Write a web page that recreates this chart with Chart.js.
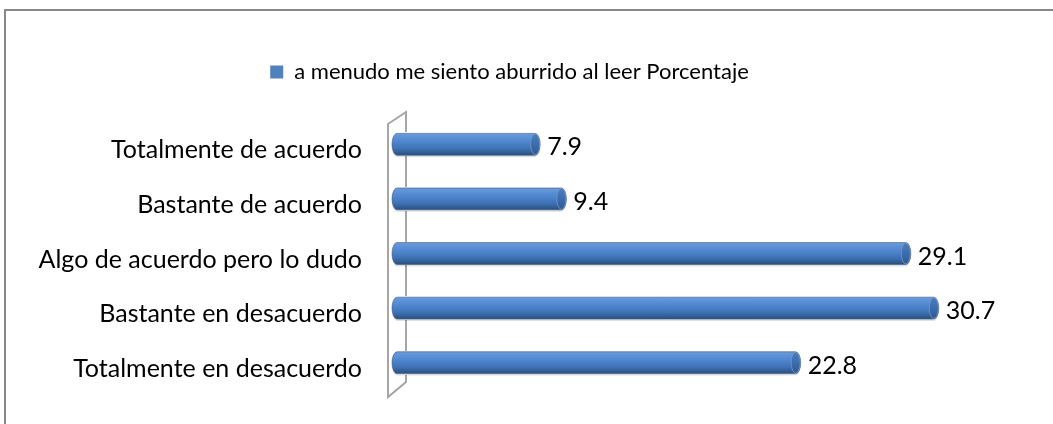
<!DOCTYPE html>
<html><head><meta charset="utf-8">
<script src="https://cdn.jsdelivr.net/npm/chart.js@4"></script>
<style>html,body{margin:0;padding:0;background:#fff;overflow:hidden}#wrap{width:1053px;height:424px;position:relative}</style>
</head><body><div id="wrap"><canvas id="c" width="1053" height="424"></canvas></div>
<script>
const categories = ['Totalmente de acuerdo', 'Bastante de acuerdo', 'Algo de acuerdo pero lo dudo', 'Bastante en desacuerdo', 'Totalmente en desacuerdo'];
const seriesName = 'a menudo me siento aburrido al leer Porcentaje';
const values = [7.9, 9.4, 29.1, 30.7, 22.8];
const valueLabels = ['7.9', '9.4', '29.1', '30.7', '22.8'];

const FONT = 'Lato';
const FSIZE = 25;
const LEGEND_FSIZE = 22;

const frame = {
  id: 'frame',
  beforeInit(chart) {
    const lg = chart.legend;
    if (lg) {
      const orig = lg.fit.bind(lg);
      lg.fit = function () { orig(); this.height += 24; };
    }
  },
  beforeDraw(chart) {
    const ctx = chart.ctx;
    ctx.save();
    ctx.strokeStyle = '#878787';
    ctx.lineWidth = 2;
    ctx.beginPath();
    ctx.moveTo(5, 424); ctx.lineTo(5, 10); ctx.lineTo(1053, 10);
    ctx.stroke();
    // 3D wall
    const a = chart.chartArea;
    const x0 = chart.scales.x.getPixelForValue(0);
    ctx.strokeStyle = '#a6a6a6';
    ctx.lineWidth = 2;
    ctx.beginPath();
    ctx.moveTo(x0 - 9, a.top + 7);
    ctx.lineTo(x0 + 9, a.top - 5);
    ctx.lineTo(x0 + 9, a.bottom - 8);
    ctx.lineTo(x0 - 9, a.bottom + 7);
    ctx.closePath();
    ctx.stroke();
    ctx.restore();
  },
  afterDatasetsDraw(chart) {
    const ctx = chart.ctx;
    const meta = chart.getDatasetMeta(0);
    const x0 = chart.scales.x.getPixelForValue(0);
    meta.data.forEach((bar, i) => {
      const h = bar.height;
      const yT = bar.y - h / 2, yB = bar.y + h / 2;
      const x1 = bar.x;
      const rx = 5;
      ctx.save();
      ctx.clearRect(x0 - 1, yT - 1, x1 - x0 + 2, h + 2);
      ctx.fillStyle = 'rgba(0,0,0,0.12)';
      ctx.beginPath();
      ctx.ellipse(x0, bar.y + 2, rx, h / 2, 0, Math.PI / 2, Math.PI * 1.5);
      ctx.lineTo(x1, yT + 2);
      ctx.ellipse(x1, bar.y + 2, rx, h / 2, 0, -Math.PI / 2, Math.PI / 2);
      ctx.closePath();
      ctx.fill();
      const g = ctx.createLinearGradient(0, yT, 0, yB);
      g.addColorStop(0, '#6b9bdc');
      g.addColorStop(0.35, '#5088d0');
      g.addColorStop(0.7, '#3f72b5');
      g.addColorStop(1, '#28507f');
      ctx.fillStyle = g;
      ctx.beginPath();
      ctx.ellipse(x0, bar.y, rx, h / 2, 0, Math.PI / 2, Math.PI * 1.5);
      ctx.lineTo(x1, yT);
      ctx.ellipse(x1, bar.y, rx, h / 2, 0, -Math.PI / 2, Math.PI / 2);
      ctx.closePath();
      ctx.fill();
      ctx.strokeStyle = 'rgba(60,90,130,0.6)';
      ctx.lineWidth = 1;
      ctx.stroke();
      const g2 = ctx.createLinearGradient(0, yT, 0, yB);
      g2.addColorStop(0, '#4a7fc4');
      g2.addColorStop(1, '#2d5a94');
      ctx.fillStyle = g2;
      ctx.beginPath();
      ctx.ellipse(x1, bar.y, rx - 0.5, h / 2 - 0.5, 0, 0, Math.PI * 2);
      ctx.fill();
      ctx.strokeStyle = 'rgba(120,150,190,0.8)';
      ctx.stroke();
      ctx.fillStyle = '#000';
      ctx.font = FSIZE + 'px ' + FONT;
      ctx.textAlign = 'left';
      ctx.textBaseline = 'middle';
      ctx.fillText(valueLabels[i], x1 + 12, bar.y + 3);
      ctx.restore();
    });
  }
};

new Chart(document.getElementById('c'), {
  type: 'bar',
  data: {
    labels: categories,
    datasets: [{
      label: seriesName,
      data: values,
      backgroundColor: '#4F81BD',
      borderWidth: 0,
      barPercentage: 0.8,
      categoryPercentage: 0.5
    }]
  },
  options: {
    indexAxis: 'y',
    responsive: false,
    animation: false,
    devicePixelRatio: 1,
    layout: { padding: { left: 10, right: 44, top: 51, bottom: 34 } },
    plugins: {
      legend: {
        display: true,
        position: 'top',
        labels: {
          boxWidth: 13, boxHeight: 13, padding: 10,
          color: '#000',
          font: { family: FONT, size: LEGEND_FSIZE }
        }
      },
      tooltip: { enabled: false }
    },
    scales: {
      x: {
        display: false,
        min: 0,
        max: 35
      },
      y: {
        afterFit(scale) {
          scale.width = 387;
          scale.paddingTop = 0;
          scale.paddingBottom = 0;
        },
        grid: { display: false, drawTicks: false },
        border: { display: false },
        ticks: {
          color: '#000',
          padding: 35,
          labelOffset: 6,
          font: { family: FONT, size: FSIZE }
        }
      }
    }
  },
  plugins: [frame]
});
</script></body></html>
